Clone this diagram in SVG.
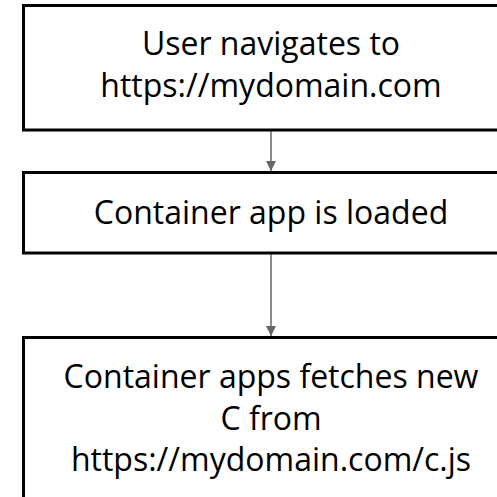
<svg xmlns="http://www.w3.org/2000/svg" width="497" height="497" viewBox="0 0 497 497">
<defs>
<marker id="ah" viewBox="0 0 10 10" refX="10" refY="5" markerWidth="10" markerHeight="10" markerUnits="userSpaceOnUse" orient="auto">
<path d="M0,0 L10,5 L0,10 z" fill="#666"/>
</marker>
<style>
.box{fill:#fff;stroke:#000;stroke-width:3}
.t{font-family:"Open Sans","Liberation Sans",sans-serif;font-size:32px;fill:#000;text-anchor:middle}
.c{stroke:#666;stroke-width:1.5;fill:none}
</style>
</defs>
<rect width="497" height="497" fill="#fff"/>
<g id="connectors">
<line class="c" x1="271" y1="131" x2="271" y2="171" marker-end="url(#ah)"/>
<line class="c" x1="271" y1="254" x2="271" y2="336" marker-end="url(#ah)"/>
</g>
<g id="node1">
<rect class="box" x="23.5" y="5.5" width="496" height="124.5"/>
<text class="t" x="271" y="55">User navigates to</text>
<text class="t" x="271" y="97">https://mydomain.com</text>
</g>
<g id="node2">
<rect class="box" x="23.5" y="172.5" width="496" height="80.5"/>
<text class="t" x="271" y="224">Container app is loaded</text>
</g>
<g id="node3">
<rect class="box" x="23.5" y="337.5" width="496" height="180"/>
<text class="t" x="271" y="388">Container apps fetches new</text>
<text class="t" x="271" y="430">C from</text>
<text class="t" x="271" y="471">https://mydomain.com/c.js</text>
</g>
</svg>
